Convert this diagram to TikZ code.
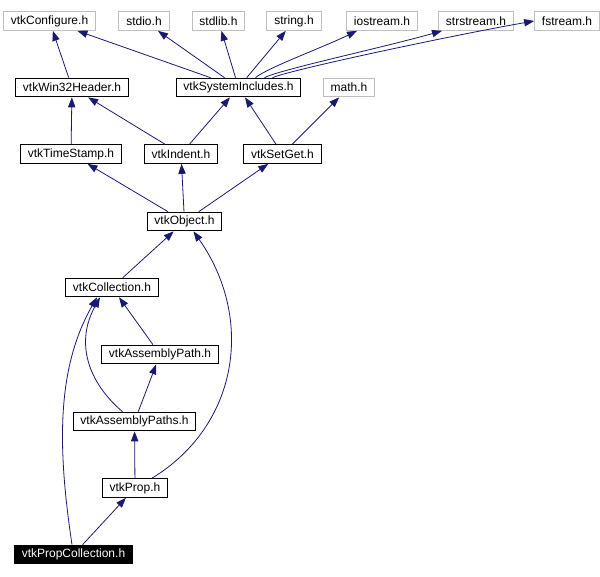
\documentclass[tikz,border=0pt]{standalone}
\usepackage{fontspec}
\setmainfont{Liberation Sans}
\usepackage{tikz}
\usetikzlibrary{arrows.meta, calc}
\definecolor{myblue}{RGB}{25,25,112}
\definecolor{mygray}{RGB}{191,191,191}
\tikzset{
  file/.style={rectangle, draw=black, fill=white, inner xsep=5.5pt, inner ysep=0pt,
    minimum height=14pt, font=\fontsize{9}{10}\selectfont, line width=0.75pt},
  sysfile/.style={file, draw=mygray},
  curfile/.style={file, fill=black, text=white},
  incl/.style={{Triangle[length=7.5pt, width=5.5pt]}-, color=myblue, line width=0.6pt}
}
\begin{document}
\begin{tikzpicture}[x=0.75pt, y=-0.75pt]
  \useasboundingbox (0,0) rectangle (600,576);

  \node[sysfile] (conf) at (49.5,21) {vtkConfigure.h};
  \node[sysfile] (stdio) at (144,21) {stdio.h};
  \node[sysfile] (stdlib) at (218.5,21) {stdlib.h};
  \node[sysfile] (string) at (294,21) {string.h};
  \node[sysfile] (iostream) at (382,21) {iostream.h};
  \node[sysfile] (strstream) at (476,21) {strstream.h};
  \node[sysfile] (fstream) at (567,21) {fstream.h};

  \node[file] (win32) at (72,87.5) {vtkWin32Header.h};
  \node[file] (sysinc) at (238.5,87.5) {vtkSystemIncludes.h};
  \node[sysfile] (math) at (349,87.5) {math.h};

  \node[file] (tstamp) at (71,154) {vtkTimeStamp.h};
  \node[file] (indent) at (181,154) {vtkIndent.h};
  \node[file] (setget) at (282.5,154) {vtkSetGet.h};

  \node[file] (object) at (184.5,221.5) {vtkObject.h};
  \node[file] (coll) at (112,287.5) {vtkCollection.h};
  \node[file] (apath) at (160,354.5) {vtkAssemblyPath.h};
  \node[file] (apaths) at (134.5,421.5) {vtkAssemblyPaths.h};
  \node[file] (prop) at (135,488) {vtkProp.h};
  \node[curfile] (pcoll) at (73.5,554.5) {vtkPropCollection.h};

  % includes
  \draw[incl] (conf) -- (win32);
  \draw[incl] (conf) -- (sysinc);
  \draw[incl] (stdio) -- (sysinc);
  \draw[incl] (stdlib) -- (sysinc);
  \draw[incl] (string) -- (sysinc);
  \draw[incl] ($(iostream.south)+(-25,0)$) .. controls +(-35,17) and +(12,-10) .. ($(sysinc.north)+(17,0)$);
  \draw[incl] ($(strstream.south)+(-34,0)$) .. controls +(-60,17) and +(15,-8) .. ($(sysinc.north)+(26,0)$);
  \draw[incl] (fstream.west) .. controls +(-80,14) and +(18,-8) .. ($(sysinc.north)+(34,0)$);
  \draw[incl] (win32) -- (tstamp);
  \draw[incl] (win32) -- (indent);
  \draw[incl] (sysinc) -- (indent);
  \draw[incl] (sysinc) -- (setget);
  \draw[incl] (math) -- (setget);
  \draw[incl] (tstamp) -- (object);
  \draw[incl] (indent) -- (object);
  \draw[incl] (setget) -- (object);
  \draw[incl] (object) -- (coll);
  \draw[incl] (coll) -- (apath);
  \draw[incl] (apath) -- (apaths);
  \draw[incl] ($(coll.south)+(-12,0)$) .. controls +(-25,45) and +(-35,-30) .. ($(apaths.north)+(-12,0)$);
  \draw[incl] (apaths) -- (prop);
  \draw[incl] ($(object.south)+(9,0)$) .. controls +(61,87) and +(87,-53) .. ($(prop.north)+(17,0)$);
  \draw[incl] (prop) -- (pcoll);
  \draw[incl] ($(coll.south)+(-15,0)$) .. controls +(-40,70) and +(-15,-100) .. ($(pcoll.north)+(-1.5,0)$);
\end{tikzpicture}
\end{document}
